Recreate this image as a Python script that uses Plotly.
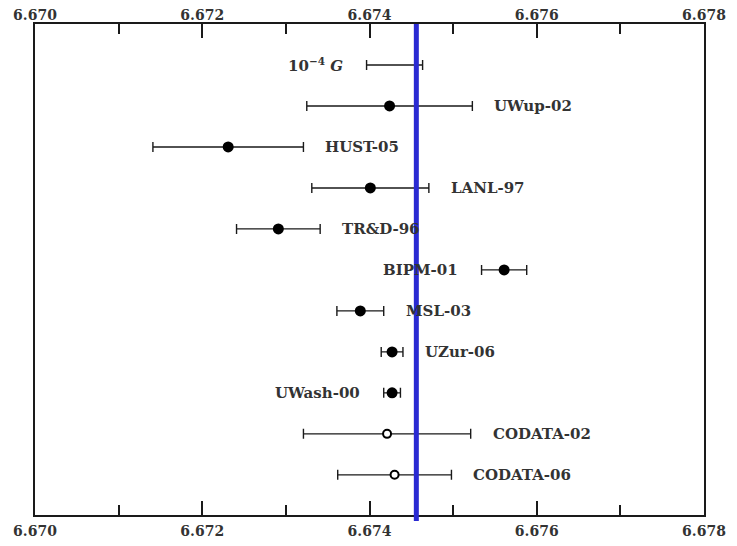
import plotly.graph_objects as go

# ---- data ----
names = ["10<sup>\u22124</sup> <i>G</i>", "UWup-02", "HUST-05", "LANL-97", "TR&D-96", "BIPM-01",
         "MSL-03", "UZur-06", "UWash-00", "CODATA-02", "CODATA-06"]
values = [6.67430, 6.67424, 6.67231, 6.67401, 6.67291, 6.67561,
          6.67389, 6.67427, 6.67427, 6.67421, 6.67430]
errors = [0.000335, 0.00099, 0.00090, 0.00070, 0.00050, 0.00027,
          0.00028, 0.00013, 0.00010, 0.00100, 0.00068]
kind = ["scale", "exp", "exp", "exp", "exp", "exp", "exp", "exp", "exp", "codata", "codata"]
label_side = ["left", "right", "right", "right", "right", "left",
              "right", "right", "left", "right", "right"]
theory_value = 6.67456
x_ticks = [6.670, 6.672, 6.674, 6.676, 6.678]
x_tick_labels = ["6.670", "6.672", "6.674", "6.676", "6.678"]

FONT = "DejaVu Serif"
INK = "#1a1a1a"

pos = list(range(1, len(names) + 1))

fig = go.Figure()

def add_group(sel, marker):
    xs = [values[i] for i in sel]
    ys = [pos[i] for i in sel]
    es = [errors[i] for i in sel]
    fig.add_trace(go.Scatter(
        x=xs, y=ys, mode="markers", marker=marker,
        error_x=dict(type="data", array=es, symmetric=True, color=INK,
                     thickness=1.4, width=5),
        showlegend=False, hoverinfo="x+y"))

add_group([i for i, k in enumerate(kind) if k == "scale"],
          dict(size=1, color="rgba(0,0,0,0)"))
add_group([i for i, k in enumerate(kind) if k == "exp"],
          dict(size=11, color="black", line=dict(width=0)))
add_group([i for i, k in enumerate(kind) if k == "codata"],
          dict(size=8, color="white", line=dict(width=2, color="black")))

# invisible trace for top axis
fig.add_trace(go.Scatter(x=[x_ticks[0], x_ticks[-1]], y=[1, 1], xaxis="x2",
                         mode="markers", marker=dict(opacity=0),
                         showlegend=False, hoverinfo="skip"))

# labels
for i, n in enumerate(names):
    if label_side[i] == "right":
        xx, anchor, shift = values[i] + errors[i], "left", 20
    else:
        xx, anchor, shift = values[i] - errors[i], "right", -22
    fig.add_annotation(x=xx, y=pos[i], text=n,
                       xanchor=anchor, yanchor="middle", xshift=shift,
                       showarrow=False,
                       font=dict(family=FONT, size=15, color="#333", weight="bold"))

# theory line
fig.add_shape(type="line", xref="x", yref="paper", x0=theory_value, x1=theory_value,
              y0=-0.012, y1=1, line=dict(color="#2a2ad2", width=5))

axis_common = dict(range=[x_ticks[0], x_ticks[-1]], tickmode="array",
                   tickvals=x_ticks, ticktext=x_tick_labels,
                   ticks="inside", ticklen=14, tickwidth=1.5, tickcolor=INK,
                   minor=dict(dtick=0.001, ticks="inside", ticklen=10,
                              tickwidth=1.5, tickcolor=INK),
                   showgrid=False, zeroline=False, automargin=False,
                   tickfont=dict(family=FONT, size=14, color="#333", weight="bold"))

fig.update_layout(
    width=721, height=530,
    margin=dict(l=27, r=25, t=16, b=23),
    paper_bgcolor="white", plot_bgcolor="white",
    xaxis=dict(**axis_common, showline=True, linecolor=INK, linewidth=2,
               mirror=True, side="bottom", ticklabelstandoff=2),
    xaxis2=dict(**axis_common, overlaying="x", side="top", matches="x",
                showline=False),
    yaxis=dict(range=[11.98, 0], showticklabels=False, ticks="",
               showgrid=False, zeroline=False, showline=True, automargin=False,
               linecolor=INK, linewidth=2, mirror=True),
)

fig.write_html("out.html")
